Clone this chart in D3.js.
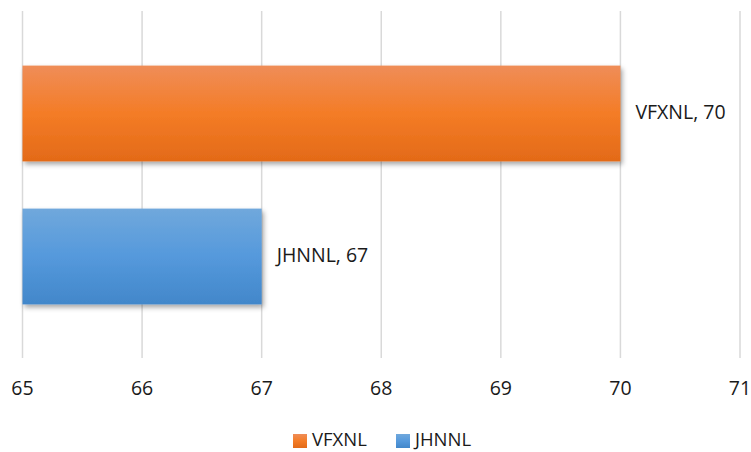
<!DOCTYPE html>
<html>
<head>
<meta charset="utf-8">
<script src="https://d3js.org/d3.v7.min.js"></script>
<style>
body, html {
  margin: 0;
  padding: 0;
  background: #fff;
  font-family: "Open Sans", sans-serif;
}
.grid line {
  stroke: #d9d9d9;
  stroke-width: 1.5;
}
</style>
</head>
<body>
<div id="chart"></div>
<script>
// chart data
var categories = ["VFXNL", "JHNNL"];
var values = [70, 67];
var ticks = [65, 66, 67, 68, 69, 70, 71];
var domainX = [65, 71];

var width = 751, height = 452;

var svg = d3.select("#chart").append("svg")
  .attr("width", width)
  .attr("height", height);

var defs = svg.append("defs");

// bar gradients
var grads = [
  {id: "gOrange", stops: ["#ef8d58", "#f47c26", "#e36a18"]},
  {id: "gBlue", stops: ["#70a8dc", "#5599dc", "#4287ca"]}
];
grads.forEach(function (g) {
  var lg = defs.append("linearGradient")
    .attr("id", g.id)
    .attr("x1", 0).attr("y1", 0).attr("x2", 0).attr("y2", 1);
  lg.append("stop").attr("offset", "0%").attr("stop-color", g.stops[0]);
  lg.append("stop").attr("offset", "50%").attr("stop-color", g.stops[1]);
  lg.append("stop").attr("offset", "100%").attr("stop-color", g.stops[2]);
});

var shadow = defs.append("filter").attr("id", "shadow")
  .attr("x", "-5%").attr("y", "-10%").attr("width", "115%").attr("height", "130%");
shadow.append("feDropShadow")
  .attr("dx", 2).attr("dy", 3).attr("stdDeviation", 2.5)
  .attr("flood-color", "#000").attr("flood-opacity", 0.35);

var x = d3.scaleLinear()
  .domain(domainX)
  .range([22.5, 740]);

var y = d3.scaleBand()
  .domain(categories)
  .range([42, 328])
  .paddingInner(0.33)
  .paddingOuter(0.165);

var gridTop = 11, gridBottom = 358;

// gridlines
svg.append("g").attr("class", "grid")
  .selectAll("line")
  .data(ticks)
  .enter().append("line")
  .attr("x1", function (d) { return x(d); })
  .attr("x2", function (d) { return x(d); })
  .attr("y1", gridTop)
  .attr("y2", gridBottom);

// tick labels
svg.append("g")
  .selectAll("text")
  .data(ticks)
  .enter().append("text")
  .attr("x", function (d) { return x(d); })
  .attr("y", 390)
  .attr("text-anchor", "middle")
  .attr("dominant-baseline", "middle")
  .attr("font-size", "19.5px")
  .attr("fill", "#1a1a1a")
  .text(function (d) { return d; });

var colors = ["url(#gOrange)", "url(#gBlue)"];

// bars
svg.append("g")
  .selectAll("rect")
  .data(values)
  .enter().append("rect")
  .attr("x", x(domainX[0]))
  .attr("y", function (d, i) { return y(categories[i]); })
  .attr("width", function (d) { return x(d) - x(domainX[0]); })
  .attr("height", y.bandwidth())
  .attr("fill", function (d, i) { return colors[i]; })
  .attr("filter", "url(#shadow)");

// data labels
svg.append("g")
  .selectAll("text")
  .data(values)
  .enter().append("text")
  .attr("x", function (d) { return x(d) + 15; })
  .attr("y", function (d, i) { return y(categories[i]) + y.bandwidth() / 2; })
  .attr("dominant-baseline", "middle")
  .attr("font-size", "19.5px")
  .attr("fill", "#1a1a1a")
  .text(function (d, i) { return categories[i] + ", " + d; });

// legend
var legendItems = [
  {name: categories[0], color: "url(#gOrange)", x: 293},
  {name: categories[1], color: "url(#gBlue)", x: 396}
];
var legend = svg.append("g").selectAll("g")
  .data(legendItems)
  .enter().append("g")
  .attr("transform", function (d) { return "translate(" + d.x + ",434)"; });
legend.append("rect")
  .attr("width", 14).attr("height", 14)
  .attr("fill", function (d) { return d.color; });
legend.append("text")
  .attr("x", 19)
  .attr("y", 7.5)
  .attr("dominant-baseline", "middle")
  .attr("font-size", "18.5px")
  .attr("fill", "#1a1a1a")
  .text(function (d) { return d.name; });
</script>
</body>
</html>
